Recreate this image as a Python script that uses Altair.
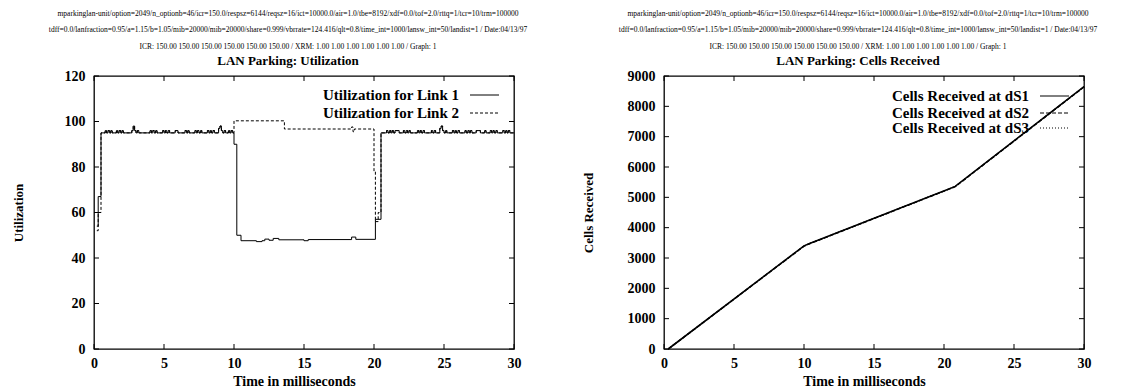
import altair as alt
import pandas as pd

FONT = "Liberation Serif"
W, H = 420, 273

HEADER = [
    "mparkinglan-unit/option=2049/n_optionb=46/icr=150.0/respsz=6144/reqsz=16/ict=10000.0/air=1.0/tbe=8192/xdf=0.0/tof=2.0/rttq=1/tcr=10/trm=100000",
    "tdff=0.0/lanfraction=0.95/a=1.15/b=1.05/mib=20000/mib=20000/share=0.999/vbrrate=124.416/qlt=0.8/time_int=1000/lansw_int=50/landist=1 / Date:04/13/97",
    "ICR: 150.00 150.00 150.00 150.00 150.00 150.00 / XRM: 1.00 1.00 1.00 1.00 1.00 1.00 / Graph: 1",
]
TITLE_UTIL = "LAN Parking: Utilization"
TITLE_CELLS = "LAN Parking: Cells Received"
X_TITLE = "Time in milliseconds"
Y_TITLE_UTIL = "Utilization"
Y_TITLE_CELLS = "Cells Received"

X_TICKS = [0, 5, 10, 15, 20, 25, 30]
Y_TICKS_UTIL = [0, 20, 40, 60, 80, 100, 120]
Y_TICKS_CELLS = [0, 1000, 2000, 3000, 4000, 5000, 6000, 7000, 8000, 9000]

UTIL_LABELS = ["Utilization for Link 1", "Utilization for Link 2"]
CELLS_LABELS = ["Cells Received at dS1", "Cells Received at dS2", "Cells Received at dS3"]

# Link 1: start-up, first busy period (ripples), low period, second busy period
L1_START_T = [0.2, 0.3, 0.5]
L1_START_V = [54, 67, 95]
L1_BUSY1_T = [0.8, 0.9, 1.0, 1.1, 1.2, 1.3, 1.6, 1.7, 1.8, 1.9, 2.0, 2.1,
              2.7, 2.8, 2.9, 3.0, 3.1, 3.2, 4.0, 4.1, 4.2, 4.3, 4.4, 4.5,
              4.9, 5.0, 5.1, 5.2, 5.3, 5.4, 5.8, 6.0, 6.5, 6.6, 6.7, 6.8,
              7.2, 7.3, 7.4, 7.5, 7.6, 7.7, 8.1, 8.2, 8.3, 8.4, 8.5, 8.6,
              8.9, 9.0, 9.1, 9.2, 9.3, 9.4, 9.6, 9.7, 9.8, 9.9]
L1_BUSY1_V = [96, 95, 96, 95, 96, 95, 96, 95, 96, 95, 96, 95,
              96, 98, 96, 95, 96, 95, 96, 95, 96, 95, 96, 95,
              96, 95, 96, 95, 96, 95, 96, 95, 96, 95, 96, 95,
              96, 95, 96, 95, 96, 95, 96, 95, 96, 95, 96, 95,
              97, 98, 96, 95, 96, 95, 96, 95, 96, 95]
L1_LOW_T = [10.0, 10.2, 10.5, 11.6, 12.0, 12.2, 12.5, 12.8, 13.2, 15.0, 15.3, 18.4, 18.7, 20.1]
L1_LOW_V = [90, 50, 47.6, 47.2, 47.6, 48.3, 47.8, 48.6, 48.0, 47.6, 48.1, 49.2, 48.2, 57]
L1_BUSY2_T = [20.5, 20.9, 21.0, 21.1, 21.2, 21.3, 21.4, 21.5, 21.8,
              22.1, 22.2, 22.3, 22.4, 22.5, 22.6, 23.1, 23.2, 23.3, 23.4, 23.5, 23.6,
              24.1, 24.2, 24.3, 24.4, 24.7, 24.8, 24.9, 25.0, 25.1, 25.2,
              25.6, 25.7, 25.8, 25.9, 26.0, 26.1, 26.5, 26.6, 26.7, 26.8, 26.9, 27.0,
              27.3, 27.6, 27.9, 28.0, 28.3, 28.4, 28.5, 28.6, 28.7, 28.8,
              29.2, 29.3, 29.4, 29.5, 29.6, 29.7, 30.0]
L1_BUSY2_V = [95, 96, 95, 96, 95, 96, 95, 96, 95,
              96, 95, 96, 95, 96, 95, 96, 95, 96, 95, 96, 95,
              96, 95, 96, 95, 97, 98, 96, 95, 96, 95,
              96, 95, 96, 95, 96, 95, 96, 95, 96, 95, 96, 95,
              96, 95, 96, 95, 96, 95, 96, 95, 96, 95,
              96, 95, 96, 95, 96, 95, 95]

# Link 2: start-up, then high period while link 1 is low
L2_START_T = [0.2, 0.3, 0.5]
L2_START_V = [52, 60, 95]
L2_HIGH_T = [10.0, 13.6, 18.4, 18.5, 18.6, 20.0, 20.1, 20.3]
L2_HIGH_V = [100.3, 96.7, 97.6, 95.5, 96.7, 78, 56, 60]

# Cells received
CR_T = [0.3, 10.0, 10.4, 20.3, 20.8, 30.0]
DS1 = [0, 3400, 3480, 5270, 5360, 8650]
DS2 = [0, 3390, 3470, 5260, 5350, 8640]
DS3 = [0, 3395, 3475, 5265, 5355, 8645]

l1 = pd.DataFrame({
    "t": L1_START_T + L1_BUSY1_T + L1_LOW_T + L1_BUSY2_T,
    "v": L1_START_V + L1_BUSY1_V + L1_LOW_V + L1_BUSY2_V,
})
l2 = pd.DataFrame({
    "t": L2_START_T + L1_BUSY1_T + L2_HIGH_T + L1_BUSY2_T,
    "v": L2_START_V + L1_BUSY1_V + L2_HIGH_V + L1_BUSY2_V,
})
cells = [pd.DataFrame({"t": CR_T, "v": s}) for s in (DS1, DS2, DS3)]

xs = alt.Scale(domain=[0, 30], nice=False, zero=False)


def x_enc():
    return alt.X("t:Q", scale=xs, axis=alt.Axis(
        values=X_TICKS, title=X_TITLE, ticks=False, domain=False, grid=False,
        labelFont=FONT, labelFontSize=14, labelFontWeight="bold", labelColor="black",
        labelPadding=7, labelFlush=False, labelOverlap=False, format="d",
        titleFont=FONT, titleFontSize=14, titleFontWeight="bold", titleColor="black",
        titleX=200, titleY=32, titleBaseline="middle", titleAlign="center"))


def y_enc(ys, ticks, title):
    return alt.Y("v:Q", scale=ys, axis=alt.Axis(
        values=ticks, title=title, ticks=False, domain=False, grid=False,
        labelFont=FONT, labelFontSize=14, labelFontWeight="bold", labelColor="black",
        labelPadding=9, labelFlush=False, labelOverlap=False, format="d",
        titleFont=FONT, titleFontSize=13, titleFontWeight="bold", titleColor="black",
        titleX=-76, titleY=H / 2, titleAngle=270, titleBaseline="middle", titleAlign="center"))


def tick_layers(ys, yticks, ytitle):
    xdf = pd.DataFrame({"t": X_TICKS})
    ydf = pd.DataFrame({"v": yticks})
    L = 5
    return [
        alt.Chart(xdf).mark_rule(color="black", strokeWidth=1).encode(
            x=x_enc(), y=alt.value(H), y2=alt.value(H - L)),
        alt.Chart(xdf).mark_rule(color="black", strokeWidth=1).encode(
            x=x_enc(), y=alt.value(0), y2=alt.value(L)),
        alt.Chart(ydf).mark_rule(color="black", strokeWidth=1).encode(
            y=y_enc(ys, yticks, ytitle), x=alt.value(0), x2=alt.value(L)),
        alt.Chart(ydf).mark_rule(color="black", strokeWidth=1).encode(
            y=y_enc(ys, yticks, ytitle), x=alt.value(W - L), x2=alt.value(W)),
    ]


def legend_layers(labels, dashes, rows_y):
    out = []
    for lab, dash, yy in zip(labels, dashes, rows_y):
        d = pd.DataFrame({"label": [lab]})
        out.append(alt.Chart(d).mark_text(
            align="right", baseline="middle", font=FONT, fontSize=15, fontWeight="bold",
            color="black").encode(text="label:N", x=alt.value(365), y=alt.value(yy)))
        rule_kw = dict(color="black", strokeWidth=1)
        if dash:
            rule_kw["strokeDash"] = dash
        out.append(alt.Chart(d).mark_rule(**rule_kw).encode(
            x=alt.value(376), x2=alt.value(405), y=alt.value(yy)))
    return out


def title(sub):
    return alt.TitleParams(
        text=HEADER, subtitle=sub, font=FONT, fontSize=7.5, fontWeight="normal",
        color="black", lineHeight=16.5, subtitleFont=FONT, subtitleFontSize=13,
        subtitleFontWeight="bold", subtitleColor="black", subtitlePadding=5,
        anchor="middle", offset=1, dx=-16)


ys_u = alt.Scale(domain=[0, 120], nice=False, zero=False)
ys_c = alt.Scale(domain=[0, 9000], nice=False, zero=False)

util_lines = [
    alt.Chart(l1).mark_line(interpolate="step-after", color="black", strokeWidth=1).encode(
        x=x_enc(), y=y_enc(ys_u, Y_TICKS_UTIL, Y_TITLE_UTIL)),
    alt.Chart(l2).mark_line(interpolate="step-after", color="black", strokeWidth=1,
                            strokeDash=[3, 2]).encode(
        x=x_enc(), y=y_enc(ys_u, Y_TICKS_UTIL, Y_TITLE_UTIL)),
]
left = alt.layer(
    *util_lines, *tick_layers(ys_u, Y_TICKS_UTIL, Y_TITLE_UTIL),
    *legend_layers(UTIL_LABELS, [None, [3, 2]], [19, 37]),
).properties(width=W, height=H, title=title(TITLE_UTIL))

cell_styles = [dict(strokeWidth=1.6), dict(strokeWidth=1.4, strokeDash=[4, 2]),
               dict(strokeWidth=1.2, strokeDash=[1, 2])]
cell_lines = []
for df, st in zip(cells, cell_styles):
    cell_lines.append(alt.Chart(df).mark_line(color="black", **st).encode(
        x=x_enc(), y=y_enc(ys_c, Y_TICKS_CELLS, Y_TITLE_CELLS)))
right = alt.layer(
    *legend_layers(CELLS_LABELS, [None, [4, 2], [1, 2]], [20, 37, 52]),
    *cell_lines, *tick_layers(ys_c, Y_TICKS_CELLS, Y_TITLE_CELLS),
).properties(width=W, height=H, title=title(TITLE_CELLS))

chart = alt.hconcat(left, right, spacing=150, bounds="flush").properties(
    padding={"left": 3, "top": 0, "right": 0, "bottom": 0},
).configure(background="white").configure_view(stroke="black", strokeWidth=1.3)

chart.save("out.html", embed_options={"renderer": "svg", "actions": False})
